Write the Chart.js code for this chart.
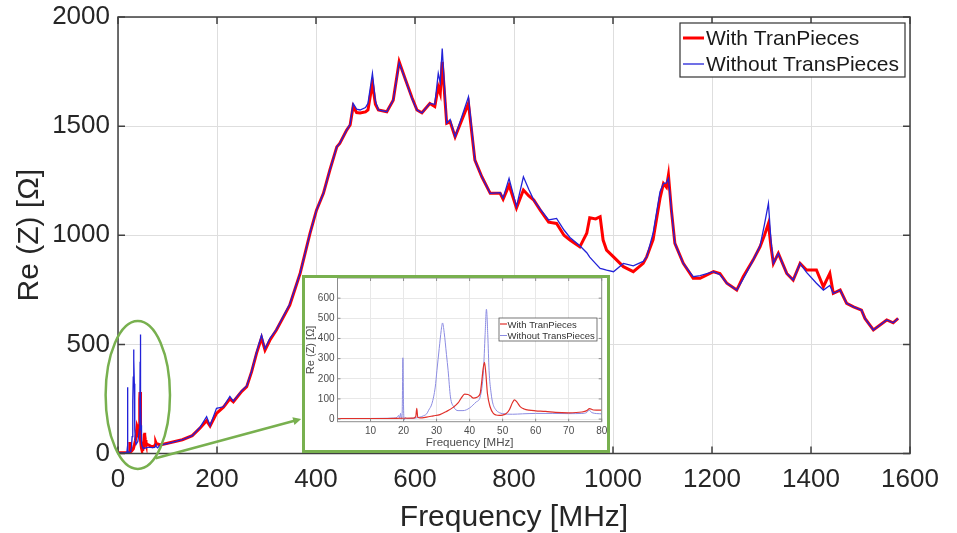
<!DOCTYPE html>
<html>
<head>
<meta charset="utf-8">
<script src="https://cdn.jsdelivr.net/npm/chart.js@4.4.0/dist/chart.umd.min.js"></script>
<style>
  html, body { margin: 0; padding: 0; background: #fff; }
  #wrap { position: relative; width: 957px; height: 533px; }
  #main { position: absolute; left: 0; top: 0; }
  #insetBox { position: absolute; left: 302px; top: 275px; width: 308px; height: 178px;
              box-sizing: border-box; border: 3px solid #78b04f; background: #fff; }
  #inset { display: block; }
</style>
</head>
<body>
<div id="wrap">
  <canvas id="main" width="957" height="533"></canvas>
  <div id="insetBox"><canvas id="inset" width="302" height="172"></canvas></div>
</div>
<script>
// zoomed low-frequency part (0-80 MHz)
const insetWithFreq = [0, 5, 10, 15, 20, 23, 23.7, 24, 24.3, 25, 27, 29, 31, 33, 35, 36.5, 37.5, 38.5, 39.5, 40.3,
  41.2, 42.2, 43.2, 43.7, 44.1, 44.5, 44.9, 45.4, 46.2, 47.2, 48, 49, 50, 51, 52, 53, 53.6, 54.3, 55.3, 56.5,
  58, 60, 63, 66, 70, 74, 75.5, 76.3, 77.5, 80];
const insetWithVals = [3, 3, 3, 3, 4, 5, 12, 53, 10, 6, 10, 16, 22, 38, 58, 80, 105, 124, 122, 114,
  104, 108, 127, 190, 250, 282, 230, 127, 61, 28, 20, 18, 20, 26, 45, 82, 95, 85, 62, 50,
  44, 41, 38, 33, 31, 35, 42, 52, 45, 44];
const insetWithoutFreq = [0, 5, 10, 15, 17, 18, 18.5, 18.8, 19.1, 19.4, 19.6, 19.8, 20.0, 20.2, 20.5, 21, 23, 25, 26, 27,
  27.6, 28.6, 29.6, 30.1, 30.8, 31.4, 31.8, 32.3, 33, 33.5, 34.2, 35.2, 36.5, 38, 40, 42, 43.2, 44.2, 44.7, 45.1,
  45.5, 45.9, 46.5, 47, 48, 49, 50, 53, 56, 60, 65, 70, 74, 75.5, 76.2, 77, 80];
const insetWithoutVals = [3, 3, 3, 4, 5, 8, 18, 5, 28, 0, 40, 304, 60, -5, 8, 3, 4, 10, 16, 26,
  44, 77, 159, 240, 350, 440, 477, 430, 320, 240, 110, 60, 42, 42, 55, 85, 110, 240, 420, 545,
  420, 240, 130, 80, 45, 32, 27, 24, 26, 28, 28, 27, 28, 33, 45, 32, 26];

// rest of the sweep (MHz), both curves on one grid
const mainFreq = [85, 100, 130, 150, 165, 179, 186, 199, 213, 226, 233, 250, 260, 270, 280, 290, 297, 307, 320, 347,
  368, 388, 401, 415, 428, 442, 448, 462, 469, 475, 482, 489, 500, 505, 514, 520, 526, 543, 556, 568,
  581, 594, 604, 614, 630, 640, 647, 651, 655, 664, 671, 681, 708, 721, 735, 752, 772, 778, 790, 805,
  819, 830, 840, 853, 870, 886, 901, 913, 933, 947, 953, 965, 974, 980, 987, 1001, 1021, 1041, 1061, 1068,
  1081, 1095, 1102, 1108, 1112, 1118, 1125, 1142, 1162, 1176, 1203, 1216, 1230, 1250, 1263, 1283, 1297, 1306, 1314, 1319,
  1324, 1334, 1351, 1364, 1378, 1391, 1411, 1425, 1438, 1445, 1459, 1472, 1486, 1502, 1509, 1526, 1553, 1566, 1576];
const mainWith = [39, 47, 63, 82, 115, 150, 126, 184, 212, 250, 237, 285, 306, 375, 460, 530, 474, 520, 566, 680,
  826, 1010, 1115, 1192, 1299, 1405, 1421, 1482, 1505, 1590, 1562, 1560, 1565, 1574, 1696, 1600, 1574, 1566, 1619, 1795,
  1711, 1630, 1574, 1561, 1604, 1590, 1680, 1650, 1795, 1513, 1520, 1451, 1604, 1344, 1268, 1192, 1192, 1165, 1230, 1125,
  1207, 1180, 1161, 1115, 1060, 1054, 1000, 978, 947, 1009, 1080, 1075, 1085, 978, 932, 901, 856, 833, 871, 901,
  980, 1170, 1237, 1220, 1276, 1115, 963, 871, 803, 803, 833, 825, 780, 749, 810, 886, 947, 1000, 1054, 950,
  871, 917, 825, 795, 871, 841, 841, 764, 825, 734, 749, 688, 672, 657, 619, 566, 612, 599, 619];
const mainWithout = [39, 45, 63, 82, 118, 169, 128, 207, 214, 262, 240, 288, 310, 378, 465, 543, 480, 528, 568, 685,
  826, 1010, 1115, 1192, 1299, 1405, 1421, 1482, 1508, 1604, 1578, 1574, 1585, 1604, 1742, 1615, 1574, 1566, 1619, 1790,
  1711, 1625, 1574, 1561, 1604, 1600, 1742, 1700, 1856, 1513, 1530, 1451, 1634, 1344, 1268, 1192, 1195, 1170, 1261, 1131,
  1268, 1210, 1161, 1120, 1070, 1077, 1024, 990, 952, 920, 900, 870, 848, 845, 840, 833, 871, 860, 880, 901,
  1009, 1200, 1237, 1240, 1260, 1115, 963, 871, 810, 815, 833, 820, 780, 749, 800, 886, 950, 1050, 1146, 980,
  871, 917, 825, 795, 871, 830, 780, 749, 770, 734, 749, 688, 672, 657, 619, 566, 612, 599, 619];

// tick values
const mainXTicks = [0, 200, 400, 600, 800, 1000, 1200, 1400, 1600];
const mainYTicks = [0, 500, 1000, 1500, 2000];
const insetXTicks = [10, 20, 30, 40, 50, 60, 70, 80];
const insetYTicks = [0, 100, 200, 300, 400, 500, 600];

const labelWith = 'With TranPieces';
const labelWithout = 'Without TransPieces';

const pts = (xs, ys) => xs.map((x, i) => ({ x: x, y: ys[i] }));
const withPts = pts(insetWithFreq, insetWithVals).concat(pts(mainFreq, mainWith));
const withoutPts = pts(insetWithoutFreq, insetWithoutVals).concat(pts(mainFreq, mainWithout));
const fixTicks = list => scale => { scale.ticks = list.map(v => ({ value: v })); };
const plain = v => String(v);
// fixed axis size, and no extra room reserved for overhanging labels
const fitTo = (w, h) => s => {
  if (w !== null) s.width = w;
  if (h !== null) s.height = h;
  s.paddingTop = s.paddingBottom = s.paddingLeft = s.paddingRight = 0;
};

Chart.defaults.font.family = "'Liberation Sans', Arial, Helvetica, sans-serif";

// closed axes box with inward tick marks (matlab look)
const boxFrame = {
  id: 'boxFrame',
  afterDraw(chart, args, o) {
    const { ctx, chartArea: a, scales: { x, y } } = chart;
    ctx.save();
    ctx.strokeStyle = o.color;
    ctx.lineWidth = o.width;
    ctx.strokeRect(a.left, a.top, a.right - a.left, a.bottom - a.top);
    ctx.beginPath();
    x.ticks.forEach(t => {
      const px = x.getPixelForValue(t.value);
      ctx.moveTo(px, a.bottom); ctx.lineTo(px, a.bottom - o.tick);
      ctx.moveTo(px, a.top); ctx.lineTo(px, a.top + o.tick);
    });
    y.ticks.forEach(t => {
      const py = y.getPixelForValue(t.value);
      ctx.moveTo(a.left, py); ctx.lineTo(a.left + o.tick, py);
      ctx.moveTo(a.right, py); ctx.lineTo(a.right - o.tick, py);
    });
    ctx.stroke();
    ctx.restore();
  }
};

// boxed legend placed inside the plot
const boxLegend = {
  id: 'boxLegend',
  afterDraw(chart, args, o) {
    const ctx = chart.ctx;
    ctx.save();
    ctx.fillStyle = '#fff';
    ctx.fillRect(o.left, o.top, o.width, o.height);
    ctx.strokeStyle = o.border;
    ctx.lineWidth = o.borderWidth;
    ctx.strokeRect(o.left, o.top, o.width, o.height);
    ctx.font = o.font;
    ctx.textBaseline = 'middle';
    chart.data.datasets.forEach((ds, i) => {
      const yy = o.rowY[i];
      ctx.strokeStyle = ds.borderColor;
      ctx.lineWidth = ds.borderWidth;
      ctx.beginPath();
      ctx.moveTo(o.sampleX[0], yy);
      ctx.lineTo(o.sampleX[1], yy);
      ctx.stroke();
      ctx.fillStyle = o.textColor;
      ctx.fillText(ds.label, o.textX, yy + 1);
    });
    ctx.restore();
  }
};

// green ellipse around the low-frequency spikes + arrow to the inset
const zoomMark = {
  id: 'zoomMark',
  afterDraw(chart, args, o) {
    const { ctx, scales: { x, y } } = chart;
    const cx = x.getPixelForValue(o.center[0]);
    const cy = y.getPixelForValue(o.center[1]);
    const rx = x.getPixelForValue(o.center[0] + o.radius[0]) - cx;
    const ry = cy - y.getPixelForValue(o.center[1] + o.radius[1]);
    ctx.save();
    ctx.strokeStyle = o.color;
    ctx.fillStyle = o.color;
    ctx.lineWidth = o.width;
    ctx.beginPath();
    ctx.ellipse(cx, cy, rx, ry, 0, 0, Math.PI * 2);
    ctx.stroke();
    const x1 = x.getPixelForValue(o.from[0]), y1 = y.getPixelForValue(o.from[1]);
    const x2 = x.getPixelForValue(o.to[0]), y2 = y.getPixelForValue(o.to[1]);
    const ang = Math.atan2(y2 - y1, x2 - x1);
    ctx.beginPath();
    ctx.moveTo(x1, y1);
    ctx.lineTo(x2 - 6 * Math.cos(ang), y2 - 6 * Math.sin(ang));
    ctx.stroke();
    ctx.beginPath();
    ctx.moveTo(x2, y2);
    ctx.lineTo(x2 - 8 * Math.cos(ang) + 4 * Math.sin(ang), y2 - 8 * Math.sin(ang) - 4 * Math.cos(ang));
    ctx.lineTo(x2 - 8 * Math.cos(ang) - 4 * Math.sin(ang), y2 - 8 * Math.sin(ang) + 4 * Math.cos(ang));
    ctx.closePath();
    ctx.fill();
    ctx.restore();
  }
};

const textDark = '#262626';

// main chart
new Chart(document.getElementById('main'), {
  type: 'line',
  data: {
    datasets: [
      { label: labelWith, data: withPts, borderColor: '#ff0000', borderWidth: 3, order: 1 },
      { label: labelWithout, data: withoutPts, borderColor: '#2222d8', borderWidth: 1.3, order: 0 }
    ]
  },
  options: {
    responsive: false,
    animation: false,
    elements: { point: { radius: 0 }, line: { tension: 0 } },
    layout: { padding: { left: 0, right: 47, top: 17, bottom: 0 } },
    scales: {
      x: {
        type: 'linear', min: 0, max: 1600,
        afterBuildTicks: fixTicks(mainXTicks),
        ticks: { padding: 11, maxRotation: 0, color: textDark, font: { size: 26 }, callback: plain },
        grid: { color: '#dedede', drawTicks: false },
        border: { display: false },
        title: { display: true, text: 'Frequency [MHz]', color: textDark,
                 font: { size: 30, lineHeight: 1 }, padding: { top: 0, bottom: 0 } },
        afterFit: fitTo(null, 79.5)
      },
      y: {
        min: 0, max: 2000,
        afterBuildTicks: fixTicks(mainYTicks),
        ticks: { padding: 8, color: textDark, font: { size: 26 }, callback: plain },
        grid: { color: '#dedede', drawTicks: false },
        border: { display: false },
        title: { display: true, text: 'Re (Z) [Ω]', color: textDark,
                 font: { size: 30, lineHeight: 1 }, padding: { top: 15, bottom: 0 } },
        afterFit: fitTo(118, null)
      }
    },
    plugins: {
      legend: { display: false },
      tooltip: { enabled: false },
      boxFrame: { color: '#404040', width: 1.5, tick: 7 },
      boxLegend: { left: 680, top: 23, width: 225, height: 54, border: '#333', borderWidth: 1.2,
                   font: "21px 'Liberation Sans', Arial, sans-serif", textColor: '#1a1a1a',
                   rowY: [38, 64], sampleX: [683, 704], textX: 706 },
      zoomMark: { center: [40, 268], radius: [65, 339], from: [76, -22], to: [370, 158],
                  color: '#78b04f', width: 2.5 }
    }
  },
  plugins: [boxFrame, boxLegend, zoomMark]
});

// inset chart
new Chart(document.getElementById('inset'), {
  type: 'line',
  data: {
    datasets: [
      { label: labelWith, data: pts(insetWithFreq, insetWithVals), borderColor: '#e0302a', borderWidth: 1.2 },
      { label: labelWithout, data: pts(insetWithoutFreq, insetWithoutVals), borderColor: '#8c8ce2', borderWidth: 1 }
    ]
  },
  options: {
    responsive: false,
    animation: false,
    elements: { point: { radius: 0 }, line: { cubicInterpolationMode: 'monotone' } },
    layout: { padding: { left: 0, right: 5.3, top: 0, bottom: 0 } },
    scales: {
      x: {
        type: 'linear', min: 0, max: 80,
        afterBuildTicks: fixTicks(insetXTicks),
        ticks: { padding: 4, maxRotation: 0, color: '#4d4d4d', font: { size: 10 }, callback: plain },
        grid: { color: '#e8e8e8', drawTicks: false },
        border: { display: false },
        title: { display: true, text: 'Frequency [MHz]', color: '#4d4d4d',
                 font: { size: 11.5, lineHeight: 1 }, padding: { top: 0, bottom: 1 } },
        afterFit: fitTo(null, 28.3)
      },
      y: {
        min: -13, max: 700,
        afterBuildTicks: fixTicks(insetYTicks),
        ticks: { padding: 3, color: '#4d4d4d', font: { size: 10 }, callback: plain },
        grid: { color: '#e8e8e8', drawTicks: false },
        border: { display: false },
        title: { display: true, text: 'Re (Z) [Ω]', color: '#4d4d4d',
                 font: { size: 11, lineHeight: 1 }, padding: { top: 0, bottom: 0 } },
        afterFit: fitTo(32.5, null)
      }
    },
    plugins: {
      legend: { display: false },
      tooltip: { enabled: false },
      boxFrame: { color: '#8c8c8c', width: 1, tick: 3 },
      boxLegend: { left: 194, top: 40, width: 98, height: 23, border: '#555', borderWidth: 0.8,
                   font: "9.5px 'Liberation Sans', Arial, sans-serif", textColor: '#333',
                   rowY: [46, 57.5], sampleX: [195, 202], textX: 202.5 }
    }
  },
  plugins: [boxFrame, boxLegend]
});
</script>
</body>
</html>
